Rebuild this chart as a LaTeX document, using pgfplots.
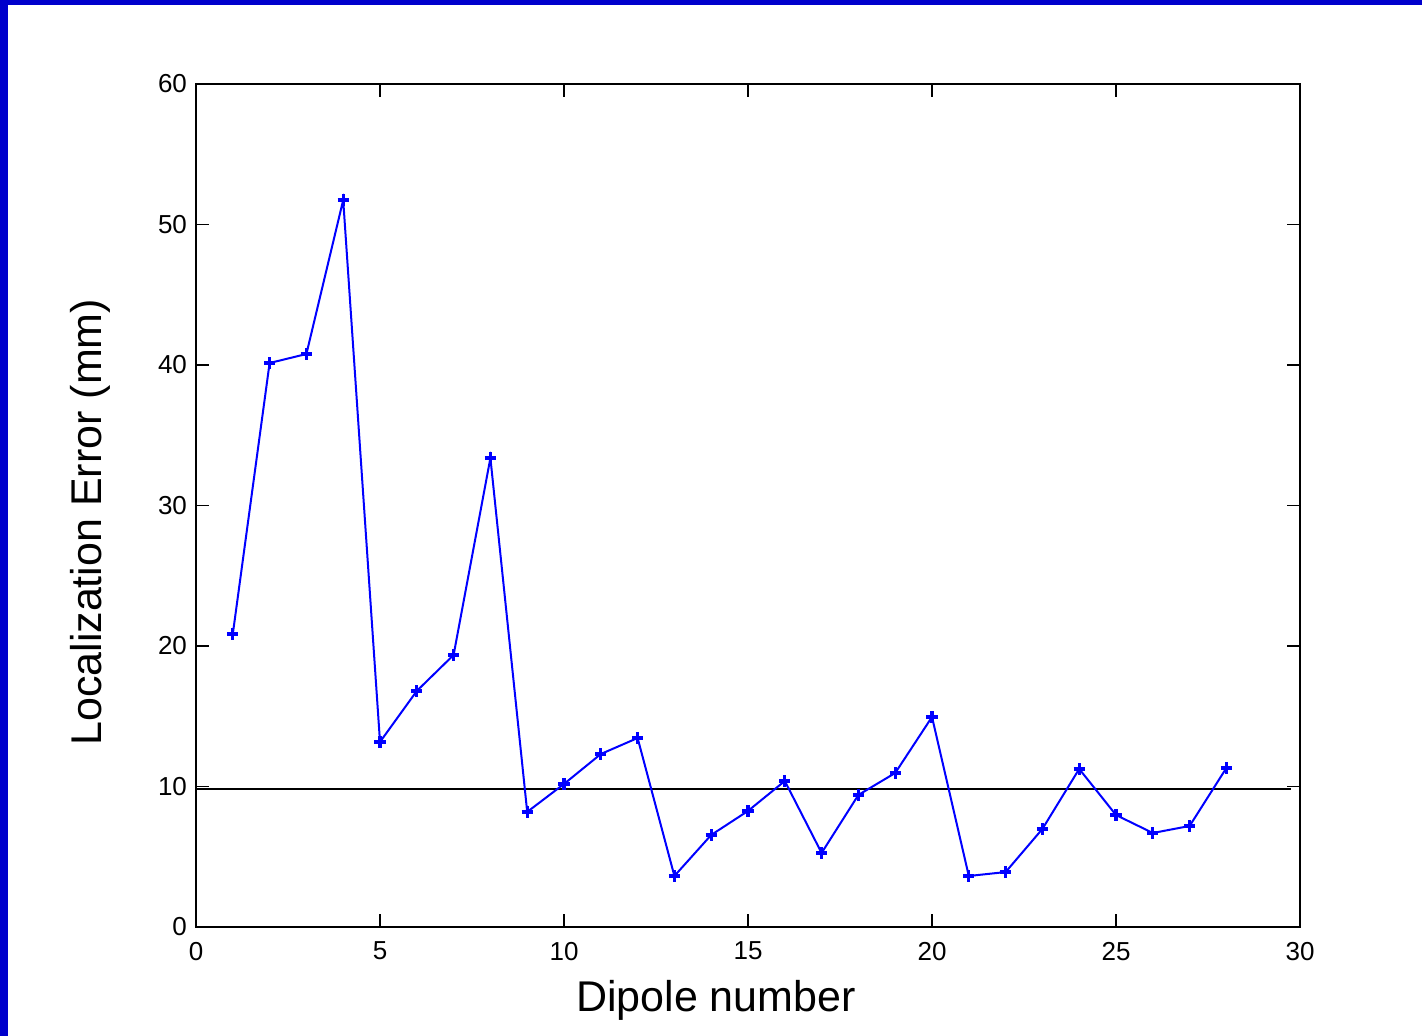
\documentclass[border=0pt]{standalone}
\usepackage{pgfplots}
\pgfplotsset{compat=1.18}
\usepackage{fontspec}
\setmainfont{Liberation Sans}
\definecolor{bord}{RGB}{0,0,204}
\definecolor{mblue}{RGB}{0,0,255}
\begin{document}
\begin{tikzpicture}[x=0.5pt,y=0.5pt]
\useasboundingbox (0,0) rectangle (1422,1036);
\fill[white] (0,0) rectangle (1422,1036);
\fill[bord] (0,0) rectangle (8,1036);
\fill[bord] (0,1031) rectangle (1422,1036);
\begin{axis}[
  at={(196*0.5pt,109*0.5pt)}, anchor=south west,
  scale only axis, width=552pt, height=421.5pt,
  xmin=0, xmax=30, ymin=0, ymax=60,
  xtick={0,5,...,30}, ytick={0,10,...,60},
  tick align=inside, major tick length=6.5pt,
  axis line style={black, line width=0.8pt},
  every tick/.style={black, line width=0.8pt},
  tick label style={font=\fontsize{13}{15}\selectfont},
  /pgf/number format/assume math mode=true,
  xticklabel style={yshift=-4pt},
  yticklabel style={xshift=-1pt},
  xlabel={Dipole number}, ylabel={Localization Error (mm)},
  label style={font=\fontsize{21.5}{25}\selectfont},
  xlabel style={at={(axis description cs:0.471,-0.0866)}, anchor=center},
  ylabel style={at={(axis description cs:-0.096,0.48)}, anchor=center},
]
\addplot[black, line width=1pt] coordinates {(0,9.8) (29.75,9.8)};
\addplot[mblue, line width=1pt, mark=+, mark size=2.8pt, mark options={line width=1.6pt}] coordinates {
(1,20.85) (2,40.14) (3,40.78) (4,51.74) (5,13.17) (6,16.80) (7,19.36) (8,33.38)
(9,8.19) (10,10.18) (11,12.31) (12,13.45) (13,3.63) (14,6.55) (15,8.26) (16,10.39)
(17,5.27) (18,9.40) (19,10.96) (20,14.95) (21,3.63) (22,3.91) (23,6.98) (24,11.25)
(25,7.97) (26,6.69) (27,7.19) (28,11.32)};
\end{axis}
\end{tikzpicture}
\end{document}
